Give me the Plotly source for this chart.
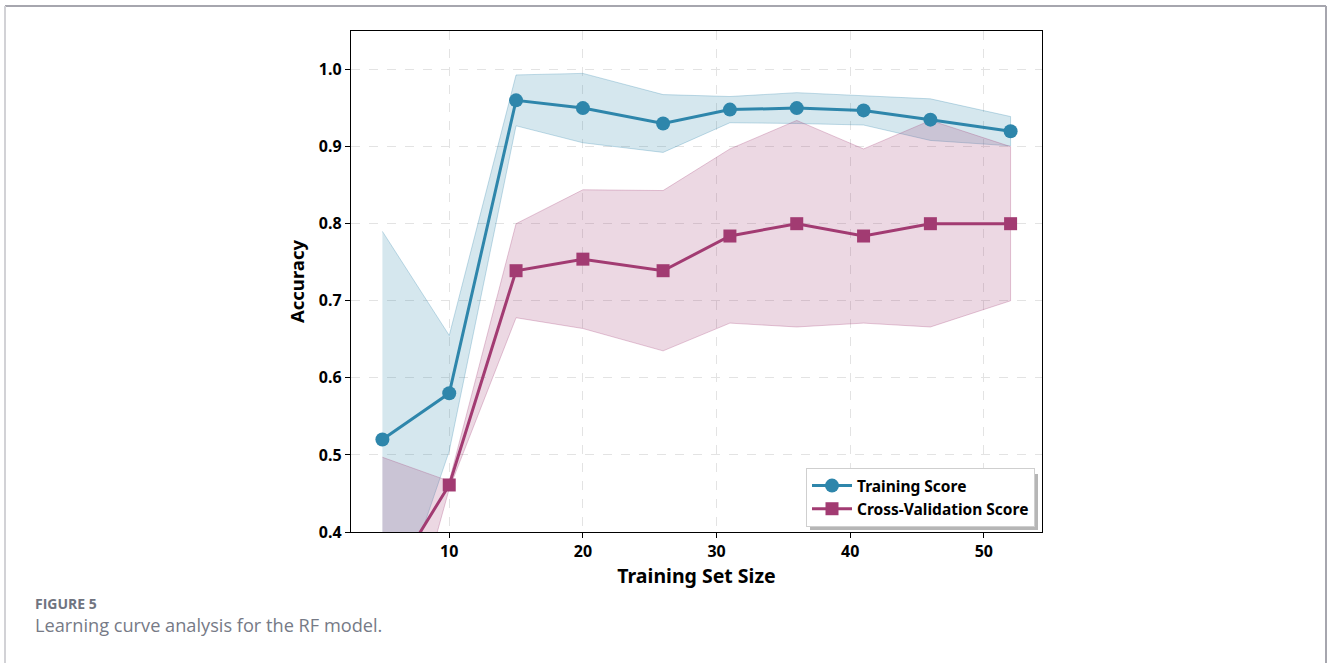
import numpy as np
import plotly.graph_objects as go

# Learning-curve data for the RF model
train_sizes = [5, 10, 15, 20, 26, 31, 36, 41, 46, 52]
train_mean = [0.52, 0.58, 0.96, 0.95, 0.93, 0.948, 0.95, 0.947, 0.935, 0.92]
train_std = [0.27, 0.075, 0.033, 0.045, 0.0375, 0.017, 0.02, 0.019, 0.027, 0.019]
cv_mean = [0.32, 0.461, 0.739, 0.754, 0.739, 0.784, 0.80, 0.784, 0.80, 0.80]
cv_std = [0.177, 0.005, 0.061, 0.09, 0.104, 0.113, 0.134, 0.113, 0.134, 0.10]

x_ticks = [10, 20, 30, 40, 50]
y_ticks = [0.4, 0.5, 0.6, 0.7, 0.8, 0.9, 1.0]

BLUE = "#2E86AB"
PINK = "#A23B72"
W, H = 1330, 663
L, R, T, B = 351, 288, 31, 131
PW, PH = W - L - R, H - T - B


def px_x(p):
    return (p - L) / PW


def px_y(p):
    return (H - B - p) / PH


x = np.array(train_sizes, dtype=float)
tm, ts = np.array(train_mean), np.array(train_std)
cm, cs = np.array(cv_mean), np.array(cv_std)

fig = go.Figure()


def band(mean, std, rgb):
    upper = mean + std
    lower = mean - std
    fig.add_trace(go.Scatter(
        x=np.concatenate([x, x[::-1]]),
        y=np.concatenate([upper, lower[::-1]]),
        fill="toself",
        fillcolor=f"rgba({rgb},0.2)",
        line=dict(color=f"rgba({rgb},0.28)", width=1),
        mode="lines",
        hoverinfo="skip",
        showlegend=False,
    ))


band(tm, ts, "46,134,171")
band(cm, cs, "162,59,114")

fig.add_trace(go.Scatter(
    x=x, y=tm, mode="lines+markers", name="Training Score",
    line=dict(color=BLUE, width=3),
    marker=dict(symbol="circle", size=14, color=BLUE),
))
fig.add_trace(go.Scatter(
    x=x, y=cm, mode="lines+markers", name="Cross-Validation Score",
    line=dict(color=PINK, width=3),
    marker=dict(symbol="square", size=13, color=PINK),
))

axis_common = dict(
    showline=True, linecolor="black", linewidth=1.3, mirror=True,
    ticks="outside", ticklen=5, tickwidth=1.2, tickcolor="black",
    showgrid=True, gridcolor="#e3e3e3", griddash="dash", gridwidth=1,
    zeroline=False,
    tickfont=dict(family="Noto Sans", size=16, color="black", weight="bold"),
)

fig.update_xaxes(
    range=[2.65, 54.35], tickvals=x_ticks,
    title=dict(text="<b>Training Set Size</b>", standoff=7,
               font=dict(family="Noto Sans", size=19.5, color="black")),
    **axis_common,
)
fig.update_yaxes(
    range=[0.4, 1.05], tickvals=y_ticks, tickformat=".1f",
    title=dict(text="<b>Accuracy</b>", standoff=9,
               font=dict(family="Noto Sans", size=18.5, color="black")),
    **axis_common,
)

# legend drop shadow
fig.add_shape(type="rect", xref="paper", yref="paper", layer="above",
              x0=px_x(810), x1=px_x(1038), y0=px_y(530), y1=px_y(474),
              line=dict(width=0), fillcolor="rgba(110,110,110,0.5)")

# outer frame
frame = dict(xref="paper", yref="paper", type="line")
fig.add_shape(x0=px_x(5), x1=px_x(1326), y0=px_y(6), y1=px_y(6),
              line=dict(color="#a6a6ae", width=2), **frame)
fig.add_shape(x0=px_x(5), x1=px_x(5), y0=px_y(6), y1=px_y(670),
              line=dict(color="#d2d2d6", width=2), **frame)
fig.add_shape(x0=px_x(1326), x1=px_x(1326), y0=px_y(6), y1=px_y(670),
              line=dict(color="#a6a6ae", width=2), **frame)

# caption
fig.add_annotation(x=px_x(33), y=px_y(603), xref="paper", yref="paper",
                   xanchor="left", yanchor="middle", showarrow=False,
                   text="<b>FIGURE 5</b>",
                   font=dict(family="Open Sans", size=14, color="#707480"))
fig.add_annotation(x=px_x(33), y=px_y(625), xref="paper", yref="paper",
                   xanchor="left", yanchor="middle", showarrow=False,
                   text="Learning curve analysis for the RF model.",
                   font=dict(family="Open Sans", size=18.2, color="#767a86"))

fig.update_layout(
    width=W, height=H,
    margin=dict(l=L, r=R, t=T, b=B, autoexpand=False),
    paper_bgcolor="white", plot_bgcolor="white",
    showlegend=True,
    legend=dict(
        x=px_x(1035), y=px_y(527), xanchor="right", yanchor="bottom",
        bgcolor="white", bordercolor="#cfcfcf", borderwidth=1,
        font=dict(family="Noto Sans", size=15.5, color="black", weight="bold"),
        itemwidth=40, tracegroupgap=0,
    ),
)

fig.write_html("out.html")
